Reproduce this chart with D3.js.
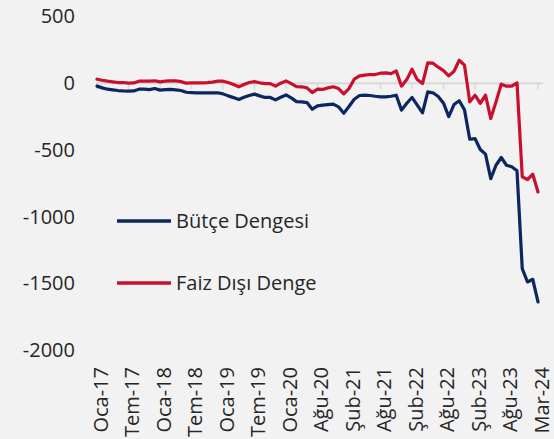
<!DOCTYPE html>
<html>
<head>
<meta charset="utf-8">
<script src="https://cdn.jsdelivr.net/npm/d3@7"></script>
<style>
  html, body { margin: 0; padding: 0; background: #f2f2f2; }
  #chart { width: 554px; height: 439px; }
  text { font-family: "Open Sans", "Noto Sans", sans-serif; fill: #262626; }
</style>
</head>
<body>
<div id="chart"></div>
<script>
// months shown on the category axis (two months are absent in the source series)
const months = [
  "Oca-17","Şub-17","Mar-17","Nis-17","May-17","Haz-17","Tem-17","Ağu-17","Eyl-17","Eki-17","Kas-17","Ara-17",
  "Oca-18","Şub-18","Mar-18","Nis-18","May-18","Haz-18","Tem-18","Ağu-18","Eyl-18","Eki-18","Kas-18","Ara-18",
  "Oca-19","Şub-19","Mar-19","Nis-19","May-19","Haz-19","Tem-19","Ağu-19","Eyl-19","Eki-19","Kas-19","Ara-19",
  "Oca-20","Şub-20","Mar-20","Nis-20","May-20","Haz-20","Ağu-20","Eyl-20","Eki-20","Kas-20","Ara-20",
  "Oca-21","Şub-21","Mar-21","Nis-21","May-21","Haz-21","Tem-21","Ağu-21","Eyl-21","Eki-21","Kas-21","Ara-21",
  "Oca-22","Şub-22","Mar-22","Nis-22","May-22","Haz-22","Tem-22","Ağu-22","Eyl-22","Eki-22","Kas-22","Ara-22",
  "Oca-23","Şub-23","Mar-23","Nis-23","May-23","Haz-23","Tem-23","Ağu-23","Eyl-23","Eki-23","Kas-23","Ara-23",
  "Oca-24","Mar-24"
];

const tickLabels = ["Oca-17","Tem-17","Oca-18","Tem-18","Oca-19","Tem-19","Oca-20","Ağu-20",
  "Şub-21","Ağu-21","Şub-22","Ağu-22","Şub-23","Ağu-23","Mar-24"];

const yTicks = [500, 0, -500, -1000, -1500, -2000];

const butceDengesi = [
  -22, -35, -45, -50, -55, -58, -60, -58, -45, -45, -48, -40,
  -52, -48, -47, -50, -55, -68, -70, -72, -72, -72, -72, -72,
  -80, -95, -108, -122, -105, -92, -82, -95, -107, -107, -125, -105,
  -88, -110, -138, -140, -145, -195, -170, -165, -160, -157, -177,
  -225, -175, -120, -92, -90, -92, -98, -102, -102, -98, -90, -202,
  -150, -107, -165, -222, -65, -72, -100, -150, -250, -160, -132, -200,
  -420, -415, -497, -532, -715, -615, -557, -615, -627, -657, -1390, -1490,
  -1470, -1640
];

const faizDisiDenge = [
  30, 22, 15, 10, 5, 5, 0, 2, 15, 15, 15, 18,
  10, 15, 17, 17, 12, 0, 3, 3, 3, 5, 8, 15,
  15, 5, -10, -27, -10, 5, 12, 3, -3, -3, -22, 0,
  17, -3, -25, -27, -35, -70, -45, -47, -35, -27, -40,
  -80, -40, 30, 55, 60, 65, 65, 75, 78, 72, 92, -22,
  27, 105, 27, -3, 152, 150, 120, 95, 55, 90, 172, 135,
  -140, -90, -152, -90, -265, -140, -7, -22, -22, 2, -702, -722,
  -682, -815
];

const seriesNames = ["Bütçe Dengesi", "Faiz Dışı Denge"];
const colors = ["#0b2660", "#c8102e"];

const width = 554;
const height = 439;

const svg = d3.select("#chart")
  .append("svg")
  .attr("width", width)
  .attr("height", height);

const x = d3.scalePoint().domain(months).range([97, 538]);
const y = d3.scaleLinear().domain([-2000, 500]).range([350, 16.5]);

// zero line with tick marks
svg.append("line")
  .attr("x1", x(months[0]) - 1)
  .attr("x2", x(months[months.length - 1]) + 5)
  .attr("y1", y(0))
  .attr("y2", y(0))
  .attr("stroke", "#d9d9d9")
  .attr("stroke-width", 2);

svg.selectAll(".xtick")
  .data(tickLabels)
  .join("line")
  .attr("class", "xtick")
  .attr("x1", (d) => x(d))
  .attr("x2", (d) => x(d))
  .attr("y1", y(0))
  .attr("y2", y(0) + 6)
  .attr("stroke", "#d9d9d9")
  .attr("stroke-width", 1.5);

// y axis labels (plain hyphen as minus sign)
const yAxis = d3.axisLeft(y).tickValues(yTicks).tickSize(0).tickPadding(5).tickFormat((d) => String(d));
svg.append("g")
  .attr("transform", "translate(80,0)")
  .call(yAxis)
  .call((g) => g.select(".domain").remove())
  .selectAll("text")
  .style("font-size", "20px")
  .attr("fill", "#262626");

// x axis labels, rotated
const xAxis = d3.axisBottom(x).tickValues(tickLabels).tickSize(0);
svg.append("g")
  .attr("transform", "translate(0,367)")
  .call(xAxis)
  .call((g) => g.select(".domain").remove())
  .selectAll("text")
  .attr("transform", "rotate(-90)")
  .attr("x", 0)
  .attr("y", 0)
  .attr("dy", "0.5em")
  .style("text-anchor", "end")
  .style("font-size", "20px")
  .attr("fill", "#262626");

const line = d3.line()
  .x((d, i) => x(months[i]))
  .y((d) => y(d));

[faizDisiDenge, butceDengesi].forEach((vals, k) => {
  svg.append("path")
    .datum(vals)
    .attr("fill", "none")
    .attr("stroke", k === 0 ? colors[1] : colors[0])
    .attr("stroke-width", 3.2)
    .attr("stroke-linejoin", "round")
    .attr("stroke-linecap", "round")
    .attr("d", line);
});

// legend
const legend = svg.append("g")
  .selectAll("g")
  .data(seriesNames)
  .join("g")
  .attr("transform", (d, i) => `translate(117, ${221 + i * 62})`);

legend.append("line")
  .attr("x1", 0)
  .attr("x2", 54)
  .attr("stroke", (d, i) => colors[i])
  .attr("stroke-width", 3.5);

legend.append("text")
  .attr("x", 59)
  .attr("dy", "0.35em")
  .style("font-size", "20px")
  .text((d) => d);
</script>
</body>
</html>
